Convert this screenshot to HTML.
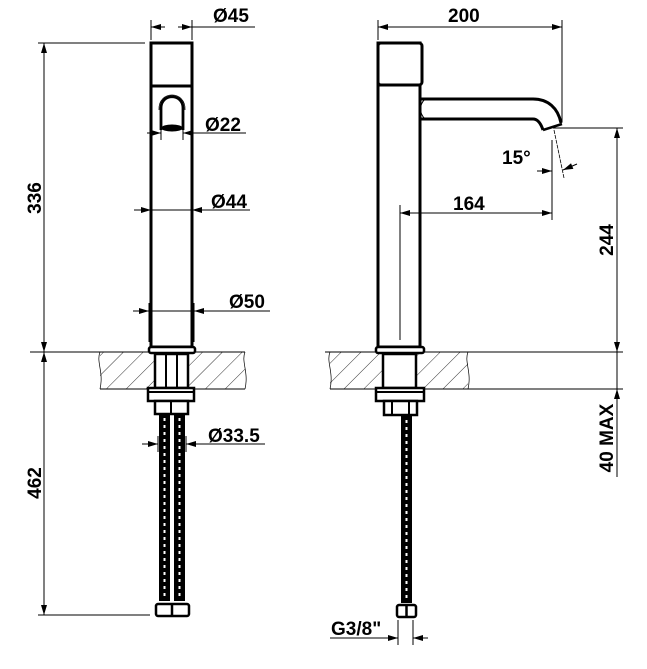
<!DOCTYPE html>
<html><head><meta charset="utf-8"><style>
html,body{margin:0;padding:0;background:#fff;}
svg{display:block;}
text{font-family:"Liberation Sans",Arial,sans-serif;font-weight:bold;font-size:19px;fill:#000;}
</style></head><body>
<svg width="647" height="669" viewBox="0 0 647 669" xmlns="http://www.w3.org/2000/svg">
<defs>
<pattern id="h" width="14" height="14" patternUnits="userSpaceOnUse" patternTransform="rotate(45)">
<line x1="0" y1="0" x2="0" y2="14" stroke="#000" stroke-width="0.8"/>
</pattern>
<marker id="a" viewBox="0 0 10 6" refX="10" refY="3" markerWidth="14" markerHeight="6" markerUnits="userSpaceOnUse" orient="auto-start-reverse"><path d="M0,0 L10,3 L0,6 z" fill="#000"/></marker>
</defs>
<g stroke="#000" fill="none">
<line x1="38" y1="43" x2="145" y2="43" stroke-width="1"/>
<line x1="30" y1="352" x2="245" y2="352" stroke-width="1"/>
<line x1="38" y1="615" x2="150" y2="615" stroke-width="1"/>
<line x1="44" y1="43" x2="44" y2="352" stroke-width="1" marker-start="url(#a)" marker-end="url(#a)"/>
<line x1="44" y1="352" x2="44" y2="615" stroke-width="1" marker-start="url(#a)" marker-end="url(#a)"/>
<rect x="100" y="352" width="145" height="37" fill="url(#h)" stroke="none"/>
<line x1="100" y1="389" x2="245" y2="389" stroke-width="1"/>
<path d="M100,352 C96,362 104,372 100,389" stroke-width="0.7"/>
<path d="M245,352 C241,362 249,372 245,389" stroke-width="0.7"/>
<rect x="155" y="353" width="33" height="35" fill="#fff" stroke="none"/>
<rect x="151" y="43" width="41" height="304" fill="#fff" stroke-width="3"/>
<line x1="151" y1="86" x2="192" y2="86" stroke-width="3"/>
<path d="M161,130 L161,108 C161,93 183,93 183,108 L183,130" stroke-width="2.8"/>
<path d="M159,110 C158,90 186,90 185,110" stroke-width="0.8"/>
<ellipse cx="172" cy="128" rx="10" ry="3" fill="#000"/>
<line x1="151" y1="20" x2="151" y2="40" stroke-width="1"/>
<line x1="192" y1="20" x2="192" y2="40" stroke-width="1"/>
<line x1="151" y1="27" x2="165" y2="27" stroke-width="1" marker-start="url(#a)"/>
<line x1="178" y1="27" x2="192" y2="27" stroke-width="1" marker-end="url(#a)"/>
<line x1="192" y1="27" x2="255" y2="27" stroke-width="1"/>
<line x1="161" y1="128" x2="161" y2="140" stroke-width="1"/>
<line x1="183" y1="128" x2="183" y2="140" stroke-width="1"/>
<line x1="147" y1="133" x2="161" y2="133" stroke-width="1" marker-end="url(#a)"/>
<line x1="197" y1="133" x2="183" y2="133" stroke-width="1" marker-end="url(#a)"/>
<line x1="197" y1="133" x2="246" y2="133" stroke-width="1"/>
<line x1="134" y1="210" x2="151" y2="210" stroke-width="1" marker-end="url(#a)"/>
<line x1="209" y1="210" x2="192" y2="210" stroke-width="1" marker-end="url(#a)"/>
<line x1="151" y1="210" x2="250" y2="210" stroke-width="1"/>
<line x1="149" y1="303" x2="149" y2="342" stroke-width="1"/>
<line x1="194" y1="303" x2="194" y2="342" stroke-width="1"/>
<line x1="133" y1="311" x2="149" y2="311" stroke-width="1" marker-end="url(#a)"/>
<line x1="210" y1="311" x2="194" y2="311" stroke-width="1" marker-end="url(#a)"/>
<line x1="149" y1="311" x2="270" y2="311" stroke-width="1"/>
<rect x="149" y="347" width="46" height="6" rx="2" fill="#fff" stroke-width="2.5"/>
<rect x="155" y="354" width="33" height="34" stroke-width="2.5"/>
<line x1="166" y1="354" x2="166" y2="388" stroke-width="2"/>
<line x1="177" y1="354" x2="177" y2="388" stroke-width="2"/>
<rect x="148" y="388" width="46" height="13" fill="#fff" stroke-width="2.5"/>
<line x1="148" y1="392" x2="194" y2="392" stroke-width="2"/>
<rect x="155" y="401" width="33" height="13" fill="#fff" stroke-width="2.5"/>
<line x1="171" y1="401" x2="171" y2="414" stroke-width="2"/>
<rect x="159" y="415" width="11" height="186" fill="#000" stroke="none"/>
<rect x="174" y="415" width="11" height="186" fill="#000" stroke="none"/>
<line x1="164.5" y1="418" x2="164.5" y2="598" stroke="#fff" stroke-width="2" stroke-dasharray="3,4"/>
<line x1="179.5" y1="418" x2="179.5" y2="598" stroke="#fff" stroke-width="2" stroke-dasharray="3,4"/>
<rect x="156" y="604" width="33" height="12" rx="2" fill="#fff" stroke-width="2.5"/>
<line x1="172" y1="604" x2="172" y2="616" stroke-width="2.5"/>
<line x1="158" y1="436" x2="158" y2="452" stroke-width="1"/>
<line x1="186" y1="436" x2="186" y2="452" stroke-width="1"/>
<line x1="142" y1="444" x2="158" y2="444" stroke-width="1" marker-end="url(#a)"/>
<line x1="202" y1="444" x2="186" y2="444" stroke-width="1" marker-end="url(#a)"/>
<line x1="186" y1="444" x2="265" y2="444" stroke-width="1"/>

<rect x="330" y="352" width="138" height="37" fill="url(#h)" stroke="none"/>
<line x1="325" y1="352" x2="623" y2="352" stroke-width="1"/>
<line x1="330" y1="389" x2="623" y2="389" stroke-width="1"/>
<path d="M330,352 C326,362 334,372 330,389" stroke-width="0.7"/>
<path d="M468,352 C464,362 472,372 468,389" stroke-width="0.7"/>
<rect x="383" y="353" width="33" height="35" fill="#fff" stroke="none"/>
<path d="M420,99 L533,99 C548,99 558,108 561,123" stroke-width="3"/>
<path d="M420,119 L533,119 C538,119 541,124 543,130" stroke-width="3"/>
<path d="M543,130 L562,124" stroke-width="2.5"/>
<path d="M421,99 C413,105 413,113 421,119" stroke-width="1"/>
<path d="M425,99 C419,105 419,113 425,119" stroke-width="1"/>
<rect x="378" y="43" width="42" height="304" fill="#fff" stroke-width="3"/>
<line x1="378" y1="85" x2="421" y2="85" stroke-width="3"/>
<rect x="378" y="43" width="44" height="42" rx="3" fill="#fff" stroke-width="3"/>
<rect x="376" y="347" width="48" height="6" rx="2" fill="#fff" stroke-width="2.5"/>
<rect x="383" y="354" width="33" height="34" stroke-width="2.5"/>
<rect x="376" y="388" width="48" height="13" fill="#fff" stroke-width="2.5"/>
<line x1="376" y1="392" x2="424" y2="392" stroke-width="2"/>
<rect x="384" y="401" width="33" height="14" fill="#fff" stroke-width="2.5"/>
<line x1="392" y1="401" x2="392" y2="415" stroke-width="2"/>
<line x1="409" y1="401" x2="409" y2="415" stroke-width="2"/>
<rect x="401" y="416" width="11" height="187" fill="#000" stroke="none"/>
<line x1="406.5" y1="420" x2="406.5" y2="600" stroke="#fff" stroke-width="2" stroke-dasharray="3,4"/>
<rect x="397" y="605" width="19" height="12" rx="2" fill="#fff" stroke-width="2.5"/>
<line x1="406.5" y1="605" x2="406.5" y2="617" stroke-width="2.5"/>
<line x1="378" y1="20" x2="378" y2="40" stroke-width="1"/>
<line x1="562" y1="20" x2="562" y2="122" stroke-width="1"/>
<line x1="378" y1="27" x2="562" y2="27" stroke-width="1" marker-start="url(#a)" marker-end="url(#a)"/>
<line x1="400" y1="205" x2="400" y2="340" stroke-width="1"/>
<line x1="552" y1="140" x2="552" y2="220" stroke-width="1"/>
<line x1="400" y1="213" x2="552" y2="213" stroke-width="1" marker-start="url(#a)" marker-end="url(#a)"/>
<line x1="537" y1="171" x2="552" y2="171" stroke-width="1" marker-end="url(#a)"/>
<line x1="554" y1="130" x2="564" y2="178" stroke-width="0.8" stroke-dasharray="4,1"/>
<line x1="577" y1="164" x2="563" y2="170" stroke-width="1" marker-end="url(#a)"/>
<line x1="553" y1="128" x2="623" y2="128" stroke-width="1"/>
<line x1="617" y1="128" x2="617" y2="352" stroke-width="1" marker-start="url(#a)" marker-end="url(#a)"/>
<line x1="617" y1="405" x2="617" y2="389" stroke-width="1" marker-end="url(#a)"/>
<line x1="617" y1="352" x2="617" y2="477" stroke-width="1"/>
<line x1="398" y1="620" x2="398" y2="645" stroke-width="1"/>
<line x1="413" y1="620" x2="413" y2="645" stroke-width="1"/>
<line x1="330" y1="638" x2="398" y2="638" stroke-width="1" marker-end="url(#a)"/>
<line x1="428" y1="638" x2="413" y2="638" stroke-width="1" marker-end="url(#a)"/>
</g>
<g>
<text x="213" y="22">Ø45</text>
<text x="205" y="131">Ø22</text>
<text x="211" y="208">Ø44</text>
<text x="229" y="308">Ø50</text>
<text x="208" y="442">Ø33.5</text>
<text x="448" y="22">200</text>
<text x="453" y="210">164</text>
<text x="502" y="164">15°</text>
<text x="331" y="635">G3/8"</text>
<text transform="translate(41,198) rotate(-90)" text-anchor="middle">336</text>
<text transform="translate(41,483) rotate(-90)" text-anchor="middle">462</text>
<text transform="translate(613,240) rotate(-90)" text-anchor="middle">244</text>
<text transform="translate(613,438) rotate(-90)" text-anchor="middle">40 MAX</text>
</g>
</svg>
</body></html>
